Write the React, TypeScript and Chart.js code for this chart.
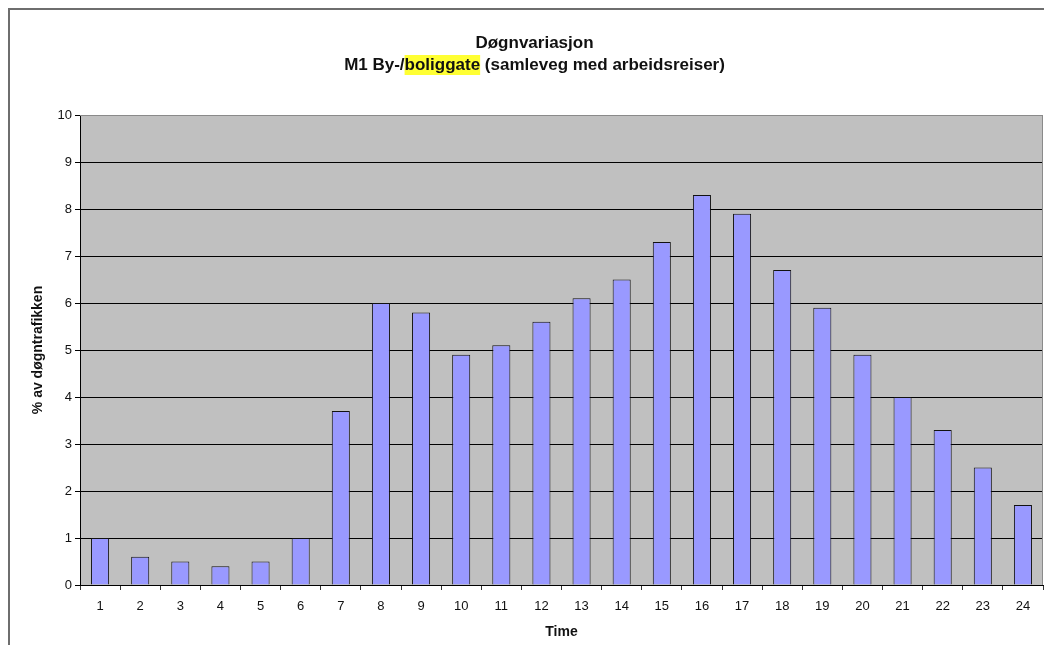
import { useEffect, useRef } from "react";
import { Chart, registerables } from "chart.js";

Chart.register(...registerables);

const hours = ["1", "2", "3", "4", "5", "6", "7", "8", "9", "10", "11", "12", "13", "14", "15", "16", "17", "18", "19", "20", "21", "22", "23", "24"];
const shares = [1.0, 0.6, 0.5, 0.4, 0.5, 1.0, 3.7, 6.0, 5.8, 4.9, 5.1, 5.6, 6.1, 6.5, 7.3, 8.3, 7.9, 6.7, 5.9, 4.9, 4.0, 3.3, 2.5, 1.7];
const yMin = 0;
const yMax = 10;
const yStep = 1;
const titleLine1 = "Døgnvariasjon";
const titlePrefix = "M1 By-/";
const titleHighlight = "boliggate";
const titleSuffix = " (samleveg med arbeidsreiser)";
const yTitle = "% av døgntrafikken";
const xTitle = "Time";

const FONT = "'Liberation Sans', Arial, Helvetica, sans-serif";
const TITLE_SIZE = 17;
const TITLE_LH = 22;
const TITLE_PAD_TOP = 22;

const decor = {
  id: "decor",
  beforeDraw(chart: any) {
    const { ctx, chartArea: a } = chart;
    ctx.save();
    ctx.fillStyle = "#C0C0C0";
    ctx.fillRect(a.left, a.top, a.right - a.left, a.bottom - a.top);
    const tb = chart.titleBlock;
    if (tb) {
      ctx.font = `bold ${TITLE_SIZE}px ${FONT}`;
      const full = ctx.measureText(titlePrefix + titleHighlight + titleSuffix).width;
      const cx = (tb.left + tb.right) / 2;
      const x0 = cx - full / 2 + ctx.measureText(titlePrefix).width;
      const w = ctx.measureText(titleHighlight).width;
      const y = tb.top + TITLE_PAD_TOP + TITLE_LH * 1.5;
      ctx.fillStyle = "#FFFF33";
      ctx.fillRect(x0, y - 10, w, 20);
    }
    ctx.restore();
  },
  afterDraw(chart: any) {
    const { ctx, chartArea: a } = chart;
    ctx.save();
    ctx.strokeStyle = "#8a8a8a";
    ctx.lineWidth = 1;
    ctx.beginPath();
    ctx.moveTo(a.left, a.top + 0.5);
    ctx.lineTo(a.right - 0.5, a.top + 0.5);
    ctx.lineTo(a.right - 0.5, a.bottom);
    ctx.stroke();
    ctx.restore();
  },
};

export default function App() {
  const ref = useRef<HTMLCanvasElement | null>(null);

  useEffect(() => {
    if (!ref.current) return;
    const chart = new Chart(ref.current, {
      type: "bar",
      data: {
        labels: hours,
        datasets: [
          {
            data: shares,
            backgroundColor: "#9999FF",
            borderColor: "#111111",
            borderWidth: 1,
            barPercentage: 0.45,
            categoryPercentage: 1,
          },
        ],
      },
      plugins: [decor],
      options: {
        animation: false,
        responsive: true,
        maintainAspectRatio: false,
        layout: { padding: { left: 16, right: 9, top: 0, bottom: 0 } },
        plugins: {
          legend: { display: false },
          tooltip: { enabled: false },
          title: {
            display: true,
            text: [titleLine1, titlePrefix + titleHighlight + titleSuffix],
            color: "#111111",
            font: { family: FONT, size: TITLE_SIZE, weight: "bold", lineHeight: TITLE_LH / TITLE_SIZE },
            padding: { top: TITLE_PAD_TOP, bottom: 39 },
          },
        },
        scales: {
          x: {
            afterFit: (s: any) => {
              s.height = 60;
            },
            grid: {
              display: true,
              drawOnChartArea: false,
              drawTicks: true,
              tickLength: 5,
              tickColor: "#333333",
              offset: true,
            },
            border: { display: true, color: "#000000", width: 1 },
            ticks: {
              color: "#111111",
              font: { family: FONT, size: 13 },
              padding: 9,
              maxRotation: 0,
              autoSkip: false,
            },
            title: {
              display: true,
              text: xTitle,
              color: "#111111",
              font: { family: FONT, size: 14, weight: "bold" },
              padding: { top: 4, bottom: 4 },
            },
          },
          y: {
            min: yMin,
            max: yMax,
            afterFit: (s: any) => {
              s.width = 54;
            },
            grid: {
              color: (c: any) => (c.tick && c.tick.value === yMax ? "#8a8a8a" : "#000000"),
              tickColor: "#000000",
              tickLength: 5,
              lineWidth: 1,
            },
            border: { display: true, color: "#000000", width: 1 },
            ticks: {
              stepSize: yStep,
              color: "#111111",
              font: { family: FONT, size: 13 },
              padding: 3,
            },
            title: {
              display: true,
              text: yTitle,
              color: "#111111",
              font: { family: FONT, size: 14, weight: "bold" },
              padding: { top: 4, bottom: 4 },
            },
          },
        },
      },
    });
    return () => chart.destroy();
  }, []);

  return (
    <div
      style={{
        width: 1050,
        height: 635,
        borderLeft: "2px solid #6e6e6e",
        borderTop: "2px solid #6e6e6e",
        background: "#ffffff",
      }}
    >
      <div style={{ position: "relative", width: 1042, height: 635 }}>
        <canvas ref={ref} />
      </div>
    </div>
  );
}
